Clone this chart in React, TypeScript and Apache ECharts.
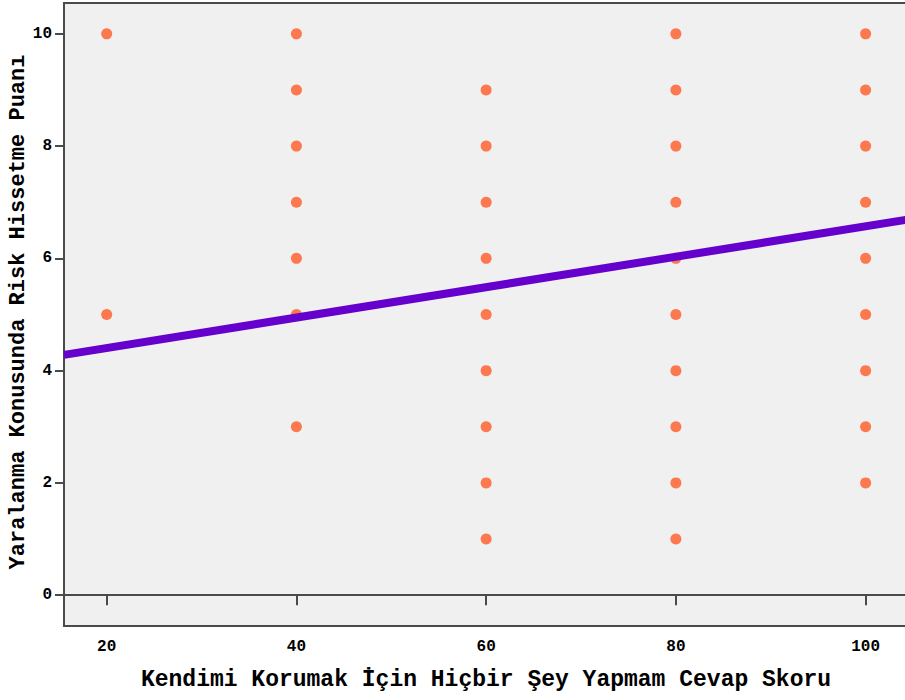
import React, { useEffect, useRef } from "react";
import * as echarts from "echarts";

const xTicks = [20, 40, 60, 80, 100];
const yTicks = [0, 2, 4, 6, 8, 10];

const pointsX20 = [10, 5];
const pointsX40 = [10, 9, 8, 7, 6, 5, 3];
const pointsX60 = [9, 8, 7, 6, 5, 4, 3, 2, 1];
const pointsX80 = [10, 9, 8, 7, 6, 5, 4, 3, 2, 1];
const pointsX100 = [10, 9, 8, 7, 6, 5, 4, 3, 2];

const fitLine: [number, number][] = [
  [15.5, 4.28],
  [105.1, 6.71],
];

const xName = "Kendimi Korumak İçin Hiçbir Şey Yapmam Cevap Skoru";
const yName = "Yaralanma Konusunda Risk Hissetme Puanı";

const FONT = "'Liberation Mono', 'Courier New', monospace";

export default function App() {
  const ref = useRef<HTMLDivElement>(null);
  useEffect(() => {
    if (!ref.current) return;
    const chart = echarts.init(ref.current, null, { renderer: "svg" });
    const scatter: [number, number][] = [];
    const groups: [number, number[]][] = [
      [20, pointsX20],
      [40, pointsX40],
      [60, pointsX60],
      [80, pointsX80],
      [100, pointsX100],
    ];
    groups.forEach(([x, ys]) => ys.forEach((y) => scatter.push([x, y])));

    const axisCommon = {
      axisLine: { show: true, lineStyle: { color: "#4a4a4a", width: 2 } },
      splitLine: { show: false },
    };

    chart.setOption({
      animation: false,
      backgroundColor: "#ffffff",
      grid: {
        left: 64,
        top: 3,
        width: 850,
        height: 623,
        show: true,
        backgroundColor: "#f0f0f0",
        borderColor: "#4a4a4a",
        borderWidth: 2,
        containLabel: false,
        outerBoundsMode: "none",
      },
      xAxis: {
        type: "value",
        min: 15.5,
        max: 105.1,
        ...axisCommon,
        axisTick: {
          show: true,
          length: 10,
          customValues: xTicks,
          lineStyle: { color: "#4a4a4a", width: 2 },
        },
        axisLabel: {
          customValues: xTicks,
          color: "#000",
          fontFamily: FONT,
          fontWeight: "bold",
          fontSize: 16,
          margin: 13,
        },
      },
      yAxis: {
        type: "value",
        min: -0.55,
        max: 10.55,
        ...axisCommon,
        axisTick: {
          show: true,
          length: 9,
          customValues: yTicks,
          lineStyle: { color: "#4a4a4a", width: 2 },
        },
        axisLabel: {
          customValues: yTicks,
          color: "#000",
          fontFamily: FONT,
          fontWeight: "bold",
          fontSize: 16,
          margin: 12,
        },
      },
      graphic: [
        {
          type: "text",
          x: 486,
          y: 680,
          style: {
            text: xName,
            fill: "#000",
            font: `bold 23px ${FONT}`,
            align: "center",
            verticalAlign: "middle",
          },
        },
        {
          type: "text",
          x: 18,
          y: 312,
          rotation: Math.PI / 2,
          style: {
            text: yName,
            fill: "#000",
            font: `bold 22px ${FONT}`,
            align: "center",
            verticalAlign: "middle",
          },
        },
      ],
      series: [
        {
          type: "scatter",
          data: scatter,
          symbol: "circle",
          symbolSize: 11,
          itemStyle: { color: "#ff5a26" },
          z: 2,
        },
        {
          type: "line",
          data: fitLine,
          showSymbol: false,
          symbol: "none",
          lineStyle: { color: "#6600cc", width: 8 },
          z: 3,
        },
      ],
    });
    return () => chart.dispose();
  }, []);
  return (
    <div
      ref={ref}
      style={{ position: "fixed", left: 0, top: 0, width: 905, height: 700 }}
    />
  );
}
